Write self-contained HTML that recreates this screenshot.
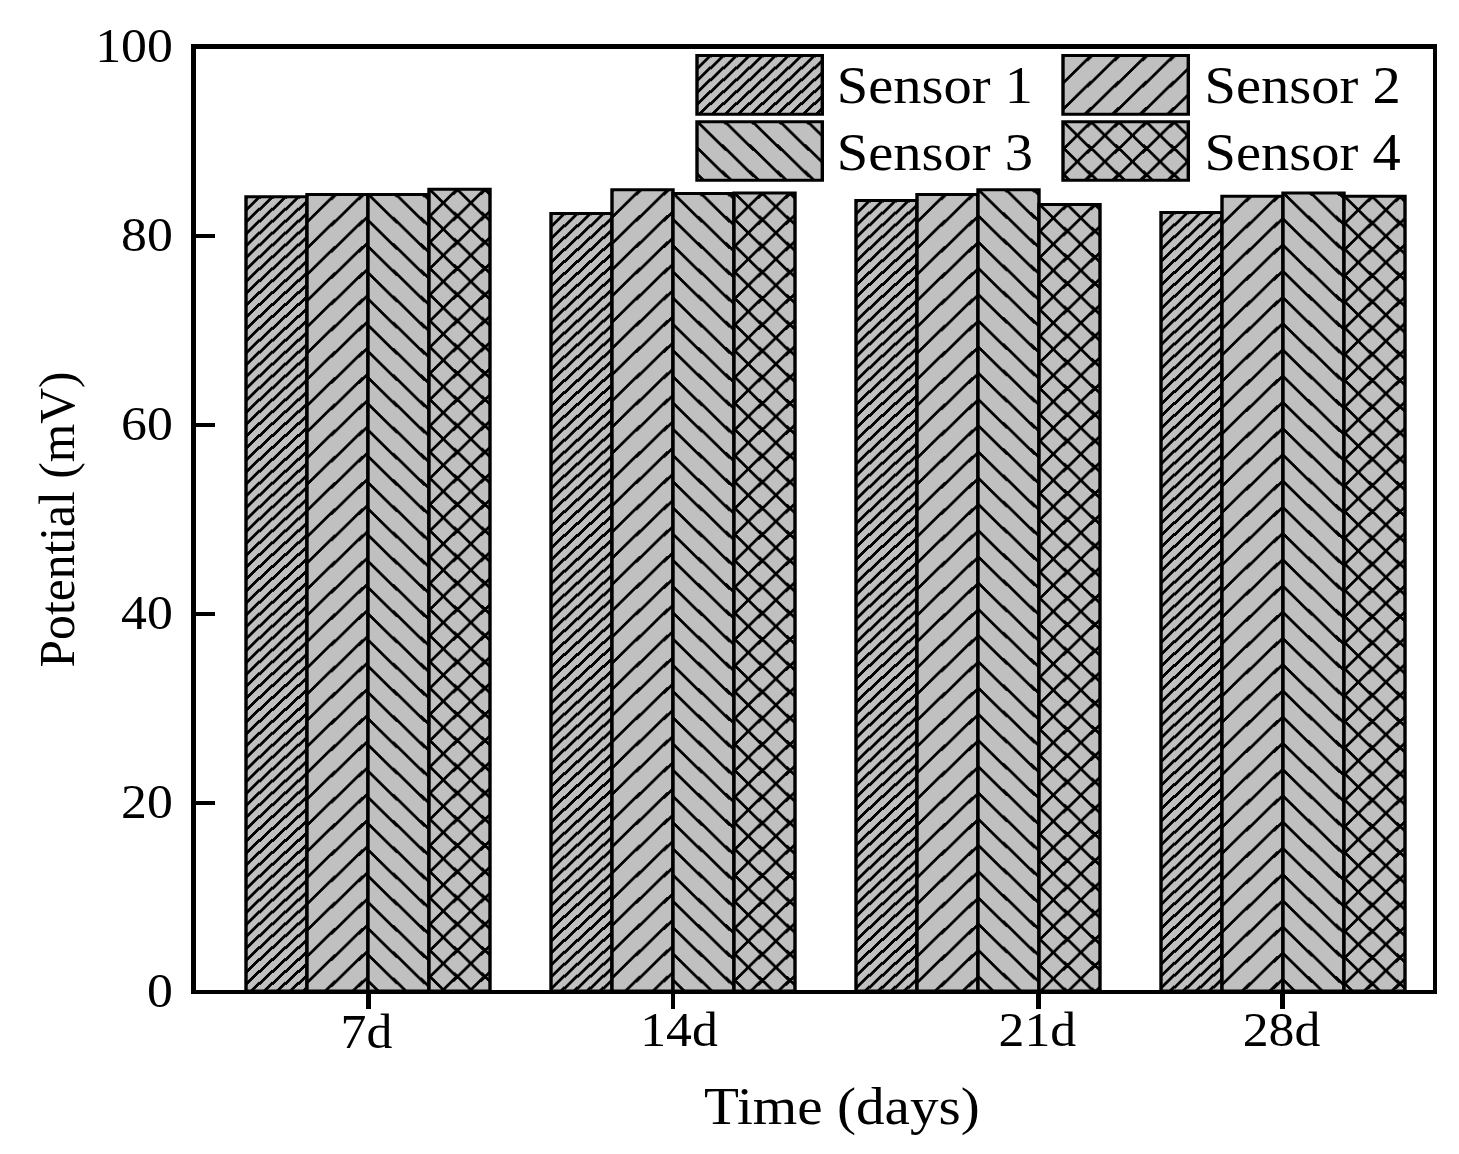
<!DOCTYPE html>
<html><head><meta charset="utf-8"><title>Potential vs Time</title>
<style>
html,body{margin:0;padding:0;background:#fff;}
svg{display:block}
text{font-family:"Liberation Serif",serif;fill:#000}
</style></head>
<body>
<svg width="1459" height="1154" viewBox="0 0 1459 1154">
<defs shape-rendering="crispEdges"><pattern stroke="#000" stroke-width="2.9" id="p1" patternUnits="userSpaceOnUse" x="0" y="0" width="13.0" height="11.91"><line x1="-24.96" y1="23.82" x2="14.04" y2="-11.91"/><line x1="-11.96" y1="23.82" x2="27.04" y2="-11.91"/><line x1="1.04" y1="23.82" x2="40.04" y2="-11.91"/><line x1="14.04" y1="23.82" x2="53.04" y2="-11.91"/></pattern><pattern stroke="#000" stroke-width="2.9" id="p2" patternUnits="userSpaceOnUse" x="0" y="0" width="27.6" height="26.23"><line x1="-54.10" y1="52.46" x2="28.70" y2="-26.23"/><line x1="-26.50" y1="52.46" x2="56.30" y2="-26.23"/><line x1="1.10" y1="52.46" x2="83.90" y2="-26.23"/><line x1="28.70" y1="52.46" x2="111.50" y2="-26.23"/></pattern><pattern stroke="#000" stroke-width="2.9" id="p3" patternUnits="userSpaceOnUse" x="0" y="0" width="27.6" height="26.23"><line x1="-55.20" y1="-26.23" x2="27.60" y2="52.46"/><line x1="-27.60" y1="-26.23" x2="55.20" y2="52.46"/><line x1="0.00" y1="-26.23" x2="82.80" y2="52.46"/><line x1="27.60" y1="-26.23" x2="110.40" y2="52.46"/></pattern><pattern stroke="#000" stroke-width="2.9" id="p4" patternUnits="userSpaceOnUse" x="0" y="0" width="27.6" height="26.23"><line x1="-54.10" y1="52.46" x2="28.70" y2="-26.23"/><line x1="-26.50" y1="52.46" x2="56.30" y2="-26.23"/><line x1="1.10" y1="52.46" x2="83.90" y2="-26.23"/><line x1="28.70" y1="52.46" x2="111.50" y2="-26.23"/><line x1="-55.20" y1="-26.23" x2="27.60" y2="52.46"/><line x1="-27.60" y1="-26.23" x2="55.20" y2="52.46"/><line x1="0.00" y1="-26.23" x2="82.80" y2="52.46"/><line x1="27.60" y1="-26.23" x2="110.40" y2="52.46"/></pattern></defs>
<rect width="1459" height="1154" fill="#fff"/>
<g id="bars" shape-rendering="crispEdges">
<g transform="translate(246.00,196.83)"><rect width="61.00" height="794.17" fill="#c0c0c0"/><rect width="61.00" height="794.17" fill="url(#p1)"/><path fill="#000" fill-rule="evenodd" shape-rendering="auto" d="M-1.70 -1.50H62.70V795.67H-1.70Z M1.70 1.50H59.30V792.67H1.70Z"/></g>
<g transform="translate(307.00,194.47)"><rect width="61.00" height="796.53" fill="#c0c0c0"/><rect width="61.00" height="796.53" fill="url(#p2)"/><path fill="#000" fill-rule="evenodd" shape-rendering="auto" d="M-1.70 -1.50H62.70V798.03H-1.70Z M1.70 1.50H59.30V795.03H1.70Z"/></g>
<g transform="translate(368.00,194.47)"><rect width="61.00" height="796.53" fill="#c0c0c0"/><rect width="61.00" height="796.53" fill="url(#p3)"/><path fill="#000" fill-rule="evenodd" shape-rendering="auto" d="M-1.70 -1.50H62.70V798.03H-1.70Z M1.70 1.50H59.30V795.03H1.70Z"/></g>
<g transform="translate(429.00,189.27)"><rect width="61.00" height="801.73" fill="#c0c0c0"/><rect width="61.00" height="801.73" fill="url(#p4)"/><path fill="#000" fill-rule="evenodd" shape-rendering="auto" d="M-1.70 -1.50H62.70V803.23H-1.70Z M1.70 1.50H59.30V800.23H1.70Z"/></g>
<g transform="translate(551.00,213.38)"><rect width="61.00" height="777.62" fill="#c0c0c0"/><rect width="61.00" height="777.62" fill="url(#p1)"/><path fill="#000" fill-rule="evenodd" shape-rendering="auto" d="M-1.70 -1.50H62.70V779.12H-1.70Z M1.70 1.50H59.30V776.12H1.70Z"/></g>
<g transform="translate(612.00,189.74)"><rect width="61.00" height="801.26" fill="#c0c0c0"/><rect width="61.00" height="801.26" fill="url(#p2)"/><path fill="#000" fill-rule="evenodd" shape-rendering="auto" d="M-1.70 -1.50H62.70V802.76H-1.70Z M1.70 1.50H59.30V799.76H1.70Z"/></g>
<g transform="translate(673.00,193.53)"><rect width="61.00" height="797.47" fill="#c0c0c0"/><rect width="61.00" height="797.47" fill="url(#p3)"/><path fill="#000" fill-rule="evenodd" shape-rendering="auto" d="M-1.70 -1.50H62.70V798.97H-1.70Z M1.70 1.50H59.30V795.97H1.70Z"/></g>
<g transform="translate(734.00,193.05)"><rect width="61.00" height="797.95" fill="#c0c0c0"/><rect width="61.00" height="797.95" fill="url(#p4)"/><path fill="#000" fill-rule="evenodd" shape-rendering="auto" d="M-1.70 -1.50H62.70V799.45H-1.70Z M1.70 1.50H59.30V796.45H1.70Z"/></g>
<g transform="translate(856.00,200.62)"><rect width="61.00" height="790.38" fill="#c0c0c0"/><rect width="61.00" height="790.38" fill="url(#p1)"/><path fill="#000" fill-rule="evenodd" shape-rendering="auto" d="M-1.70 -1.50H62.70V791.88H-1.70Z M1.70 1.50H59.30V788.88H1.70Z"/></g>
<g transform="translate(917.00,194.47)"><rect width="61.00" height="796.53" fill="#c0c0c0"/><rect width="61.00" height="796.53" fill="url(#p2)"/><path fill="#000" fill-rule="evenodd" shape-rendering="auto" d="M-1.70 -1.50H62.70V798.03H-1.70Z M1.70 1.50H59.30V795.03H1.70Z"/></g>
<g transform="translate(978.00,189.74)"><rect width="61.00" height="801.26" fill="#c0c0c0"/><rect width="61.00" height="801.26" fill="url(#p3)"/><path fill="#000" fill-rule="evenodd" shape-rendering="auto" d="M-1.70 -1.50H62.70V802.76H-1.70Z M1.70 1.50H59.30V799.76H1.70Z"/></g>
<g transform="translate(1039.00,204.40)"><rect width="61.00" height="786.60" fill="#c0c0c0"/><rect width="61.00" height="786.60" fill="url(#p4)"/><path fill="#000" fill-rule="evenodd" shape-rendering="auto" d="M-1.70 -1.50H62.70V788.10H-1.70Z M1.70 1.50H59.30V785.10H1.70Z"/></g>
<g transform="translate(1161.00,212.44)"><rect width="61.00" height="778.56" fill="#c0c0c0"/><rect width="61.00" height="778.56" fill="url(#p1)"/><path fill="#000" fill-rule="evenodd" shape-rendering="auto" d="M-1.70 -1.50H62.70V780.06H-1.70Z M1.70 1.50H59.30V777.06H1.70Z"/></g>
<g transform="translate(1222.00,196.36)"><rect width="61.00" height="794.64" fill="#c0c0c0"/><rect width="61.00" height="794.64" fill="url(#p2)"/><path fill="#000" fill-rule="evenodd" shape-rendering="auto" d="M-1.70 -1.50H62.70V796.14H-1.70Z M1.70 1.50H59.30V793.14H1.70Z"/></g>
<g transform="translate(1283.00,193.05)"><rect width="61.00" height="797.95" fill="#c0c0c0"/><rect width="61.00" height="797.95" fill="url(#p3)"/><path fill="#000" fill-rule="evenodd" shape-rendering="auto" d="M-1.70 -1.50H62.70V799.45H-1.70Z M1.70 1.50H59.30V796.45H1.70Z"/></g>
<g transform="translate(1344.00,196.36)"><rect width="61.00" height="794.64" fill="#c0c0c0"/><rect width="61.00" height="794.64" fill="url(#p4)"/><path fill="#000" fill-rule="evenodd" shape-rendering="auto" d="M-1.70 -1.50H62.70V796.14H-1.70Z M1.70 1.50H59.30V793.14H1.70Z"/></g>
</g>
<g id="axes" fill="#000" shape-rendering="crispEdges">
<rect x="191" y="44" width="5" height="950"/>
<rect x="191" y="44" width="1246" height="5"/>
<rect x="1433" y="44" width="4" height="950"/>
<rect x="191" y="990" width="1246" height="4"/>
<rect x="195" y="800.90" width="20" height="4"/>
<rect x="195" y="611.80" width="20" height="4"/>
<rect x="195" y="422.70" width="20" height="4"/>
<rect x="195" y="233.60" width="20" height="4"/>
<rect x="366.20" y="992" width="4.6" height="17"/>
<rect x="670.70" y="992" width="4.6" height="17"/>
<rect x="1036.40" y="992" width="4.6" height="17"/>
<rect x="1280.00" y="992" width="4.6" height="17"/>
</g>
<g id="legend" shape-rendering="crispEdges">
<g transform="translate(697.00,55.50)"><rect width="125.30" height="58.70" fill="#c0c0c0"/><rect width="125.30" height="58.70" fill="url(#p1)"/><path fill="#000" fill-rule="evenodd" shape-rendering="auto" d="M-1.70 -1.50H127.00V60.20H-1.70Z M1.70 1.50H123.60V57.20H1.70Z"/></g>
<g transform="translate(697.00,121.80)"><rect width="125.30" height="58.50" fill="#c0c0c0"/><rect width="125.30" height="58.50" fill="url(#p3)"/><path fill="#000" fill-rule="evenodd" shape-rendering="auto" d="M-1.70 -1.50H127.00V60.00H-1.70Z M1.70 1.50H123.60V57.00H1.70Z"/></g>
<g transform="translate(1063.00,55.50)"><rect width="125.30" height="58.70" fill="#c0c0c0"/><rect width="125.30" height="58.70" fill="url(#p2)"/><path fill="#000" fill-rule="evenodd" shape-rendering="auto" d="M-1.70 -1.50H127.00V60.20H-1.70Z M1.70 1.50H123.60V57.20H1.70Z"/></g>
<g transform="translate(1063.00,121.80)"><rect width="125.30" height="58.50" fill="#c0c0c0"/><rect width="125.30" height="58.50" fill="url(#p4)"/><path fill="#000" fill-rule="evenodd" shape-rendering="auto" d="M-1.70 -1.50H127.00V60.00H-1.70Z M1.70 1.50H123.60V57.00H1.70Z"/></g>
</g>
<g id="labels">
<text transform="translate(172.80,1007.30) scale(1.09,1)" font-size="47.5" text-anchor="end">0</text>
<text transform="translate(172.80,818.20) scale(1.09,1)" font-size="47.5" text-anchor="end">20</text>
<text transform="translate(172.80,629.10) scale(1.09,1)" font-size="47.5" text-anchor="end">40</text>
<text transform="translate(172.80,440.00) scale(1.09,1)" font-size="47.5" text-anchor="end">60</text>
<text transform="translate(172.80,250.90) scale(1.09,1)" font-size="47.5" text-anchor="end">80</text>
<text transform="translate(172.80,61.80) scale(1.09,1)" font-size="47.5" text-anchor="end">100</text>
<text transform="translate(340.50,1047.70) scale(1.09,1)" font-size="47.5" text-anchor="start">7d</text>
<text transform="translate(640.20,1046.10) scale(1.09,1)" font-size="47.5" text-anchor="start">14d</text>
<text transform="translate(998.50,1046.10) scale(1.09,1)" font-size="47.5" text-anchor="start">21d</text>
<text transform="translate(1242.70,1046.10) scale(1.09,1)" font-size="47.5" text-anchor="start">28d</text>
<text transform="translate(836.80,103.10) scale(1.083,1)" font-size="52.2" text-anchor="start">Sensor 1</text>
<text transform="translate(836.80,169.50) scale(1.083,1)" font-size="52.2" text-anchor="start">Sensor 3</text>
<text transform="translate(1204.60,103.10) scale(1.083,1)" font-size="52.2" text-anchor="start">Sensor 2</text>
<text transform="translate(1204.60,169.50) scale(1.083,1)" font-size="52.2" text-anchor="start">Sensor 4</text>
<text transform="translate(704.00,1123.60) scale(1.089,1)" font-size="52.5" text-anchor="start">Time (days)</text>
<text transform="translate(73.50,667.50) rotate(-90) scale(1.0,1)" font-size="49.6" text-anchor="start">Potential (mV)</text>
</g>
</svg>
</body></html>
